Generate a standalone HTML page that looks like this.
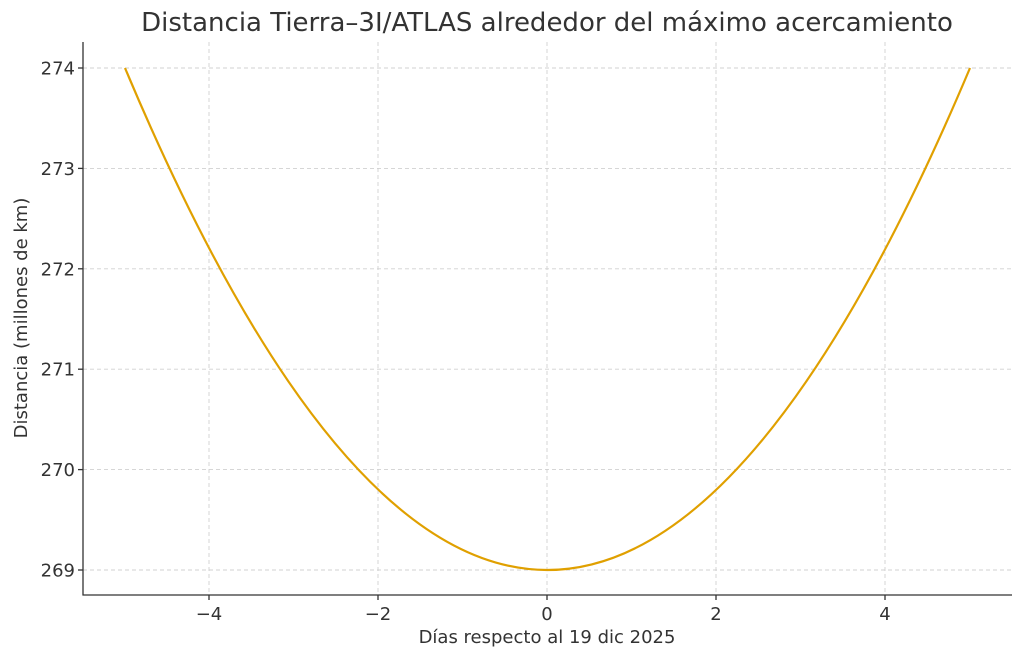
<!DOCTYPE html>
<html><head><meta charset="utf-8"><style>body{margin:0;background:#fff}svg{display:block}text{font-family:"DejaVu Sans","Liberation Sans",sans-serif;fill:#333}</style></head><body>
<svg width="1024" height="660" viewBox="0 0 1024 660">
<text x="547" y="31" font-size="26" text-anchor="middle">Distancia Tierra–3I/ATLAS alrededor del máximo acercamiento</text>
<g stroke="#d0d0d0" stroke-width="0.9" stroke-dasharray="4,3">
<line x1="209" y1="42" x2="209" y2="595"/><line x1="378" y1="42" x2="378" y2="595"/><line x1="547" y1="42" x2="547" y2="595"/><line x1="716" y1="42" x2="716" y2="595"/><line x1="885" y1="42" x2="885" y2="595"/>
<line x1="83" y1="68" x2="1012" y2="68"/><line x1="83" y1="168.4" x2="1012" y2="168.4"/><line x1="83" y1="268.8" x2="1012" y2="268.8"/><line x1="83" y1="369.2" x2="1012" y2="369.2"/><line x1="83" y1="469.6" x2="1012" y2="469.6"/><line x1="83" y1="570" x2="1012" y2="570"/>
</g>
<path d="M125,68 Q547,1072 970,68" fill="none" stroke="#E0A000" stroke-width="2.2"/>
<g stroke="#333" stroke-width="1.3">
<line x1="83" y1="42" x2="83" y2="595.5"/><line x1="82.5" y1="595" x2="1012" y2="595"/>
<line x1="209" y1="595" x2="209" y2="600"/><line x1="378" y1="595" x2="378" y2="600"/><line x1="547" y1="595" x2="547" y2="600"/><line x1="716" y1="595" x2="716" y2="600"/><line x1="885" y1="595" x2="885" y2="600"/>
<line x1="78" y1="68" x2="83" y2="68"/><line x1="78" y1="168.4" x2="83" y2="168.4"/><line x1="78" y1="268.8" x2="83" y2="268.8"/><line x1="78" y1="369.2" x2="83" y2="369.2"/><line x1="78" y1="469.6" x2="83" y2="469.6"/><line x1="78" y1="570" x2="83" y2="570"/>
</g>
<g font-size="18" text-anchor="middle">
<text x="209" y="620">−4</text><text x="378" y="620">−2</text><text x="547" y="620">0</text><text x="716" y="620">2</text><text x="885" y="620">4</text>
</g>
<g font-size="18" text-anchor="end">
<text x="75" y="74.5">274</text><text x="75" y="174.9">273</text><text x="75" y="275.3">272</text><text x="75" y="375.7">271</text><text x="75" y="476.1">270</text><text x="75" y="576.5">269</text>
</g>
<text x="547" y="643" font-size="18" text-anchor="middle">Días respecto al 19 dic 2025</text>
<text transform="translate(27,318) rotate(-90)" font-size="18" text-anchor="middle">Distancia (millones de km)</text>
</svg>
</body></html>
